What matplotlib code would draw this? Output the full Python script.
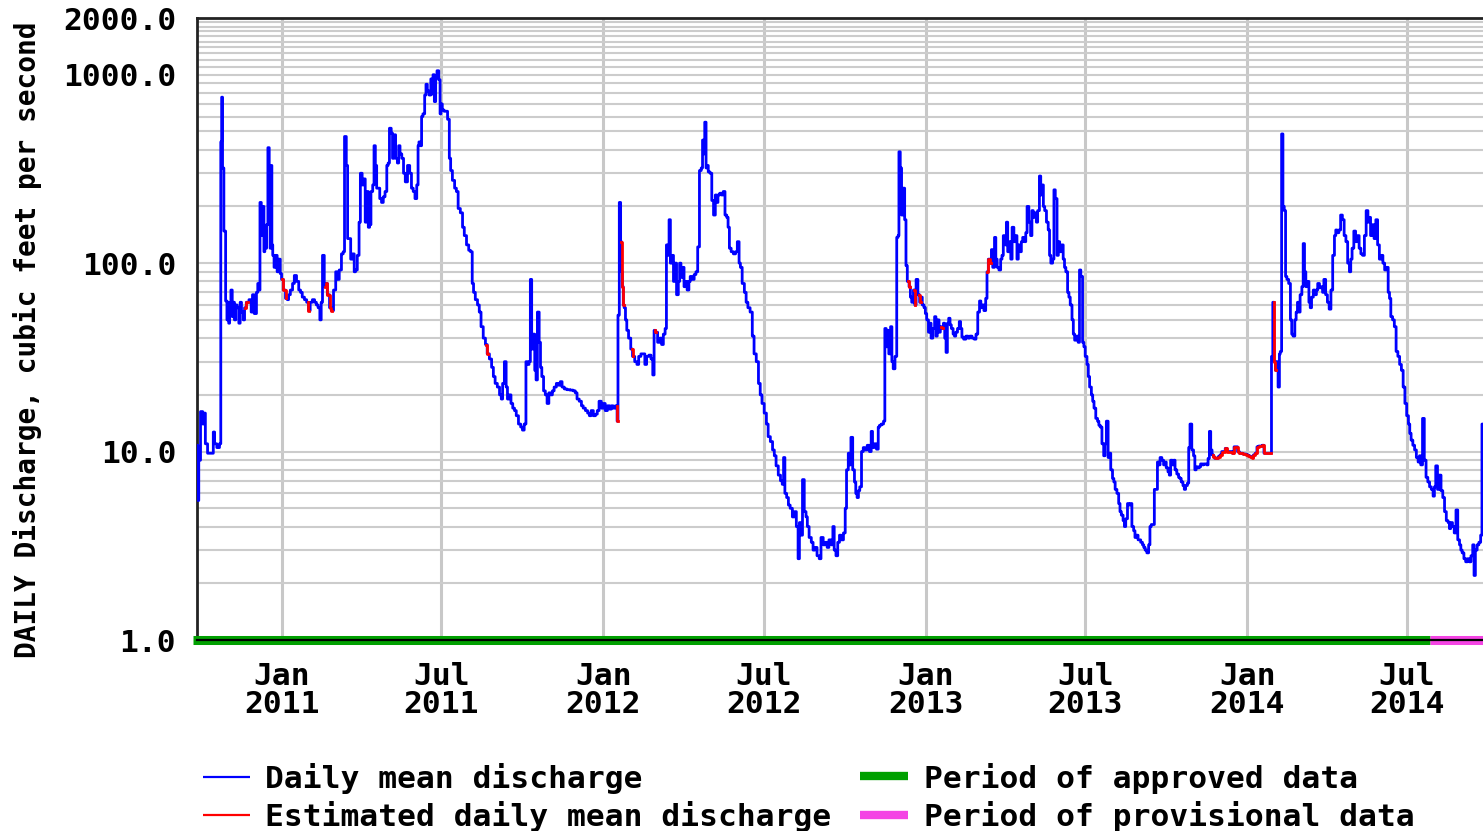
## daily discharge hydrograph, log scale
import numpy as np
import pandas as pd
import matplotlib
matplotlib.use("Agg")
import matplotlib.pyplot as plt
from matplotlib.ticker import FixedLocator, NullFormatter
from matplotlib.lines import Line2D

## record start, every day value below is days after this date
t0 = pd.Timestamp("2010-09-26")

## daily mean discharge (day, cfs)
day = [1, 2, 3, 6, 8, 9, 11, 14, 18, 20, 21, 25, 27, 28, 29, 30, 32, 34, 35, 36, 37, 38, 40, 41, 42, 44, 45, 47, 49, 50,
       52, 54, 55, 58, 61, 63, 64, 67, 69, 70, 71, 73, 74, 75, 76, 77, 78, 79, 80, 82, 83, 84, 85, 86, 87, 89, 91, 92, 94, 96,
       97, 100, 102, 104, 105, 108, 110, 112, 115, 117, 119, 121, 124, 126, 128, 130, 133, 135, 137, 139, 141, 142, 144, 146, 147, 150, 152, 154, 157, 159,
       161, 163, 166, 167, 169, 171, 172, 174, 176, 178, 180, 181, 184, 185, 187, 189, 191, 192, 194, 196, 197, 199, 201, 202, 204, 205, 207, 209, 211, 213,
       215, 217, 218, 220, 222, 223, 225, 227, 229, 230, 232, 234, 236, 238, 241, 243, 245, 247, 249, 251, 252, 253, 255, 256, 258, 260, 261, 263, 265, 267,
       268, 269, 271, 272, 274, 276, 277, 278, 280, 282, 284, 286, 288, 289, 292, 294, 296, 298, 301, 303, 305, 308, 310, 312, 314, 315, 318, 320, 322, 324,
       327, 329, 331, 334, 336, 338, 340, 343, 345, 347, 348, 351, 352, 354, 356, 358, 360, 362, 364, 367, 369, 371, 373, 375, 377, 378, 380, 381, 383, 385,
       386, 388, 390, 391, 393, 395, 397, 399, 401, 403, 405, 407, 410, 412, 414, 416, 419, 422, 426, 429, 431, 433, 436, 438, 440, 443, 445, 447, 449, 452,
       454, 456, 458, 461, 463, 465, 468, 470, 472, 474, 477, 478, 479, 481, 482, 483, 484, 485, 486, 488, 489, 492, 494, 496, 499, 501, 503, 506, 508, 510,
       512, 515, 517, 519, 520, 522, 525, 527, 529, 531, 533, 534, 536, 537, 539, 541, 542, 544, 546, 548, 549, 551, 553, 554, 556, 558, 560, 561, 564, 566,
       568, 570, 572, 574, 575, 576, 578, 579, 580, 582, 584, 586, 588, 590, 591, 593, 595, 597, 599, 601, 603, 604, 606, 608, 611, 613, 615, 617, 618, 621,
       623, 625, 627, 630, 632, 634, 637, 639, 641, 643, 646, 648, 650, 653, 655, 657, 659, 662, 664, 666, 667, 669, 671, 673, 675, 678, 680, 682, 684, 685,
       687, 689, 691, 693, 694, 697, 699, 701, 703, 706, 708, 710, 713, 715, 717, 719, 722, 723, 725, 727, 729, 731, 733, 736, 737, 739, 741, 742, 744, 746,
       748, 749, 751, 752, 754, 756, 758, 760, 763, 765, 767, 768, 771, 773, 775, 776, 779, 781, 782, 784, 785, 787, 789, 790, 792, 794, 796, 797, 798, 800,
       801, 803, 805, 806, 808, 810, 811, 813, 815, 816, 818, 820, 822, 823, 825, 827, 828, 830, 832, 833, 835, 837, 839, 840, 842, 844, 845, 847, 849, 850,
       852, 853, 855, 856, 858, 860, 861, 863, 865, 867, 868, 870, 872, 875, 877, 879, 882, 884, 886, 888, 890, 891, 893, 895, 897, 898, 900, 902, 903, 905,
       907, 908, 910, 912, 914, 915, 917, 919, 920, 922, 924, 925, 927, 929, 931, 932, 934, 936, 937, 939, 941, 942, 944, 946, 948, 949, 951, 953, 954, 956,
       958, 959, 961, 962, 964, 966, 968, 969, 971, 973, 974, 976, 978, 979, 981, 983, 985, 986, 988, 990, 991, 993, 995, 996, 998, 1000, 1002, 1003, 1005, 1007,
       1008, 1010, 1012, 1013, 1015, 1017, 1018, 1020, 1022, 1024, 1025, 1027, 1029, 1031, 1032, 1034, 1036, 1037, 1039, 1041, 1042, 1044, 1046, 1048, 1049, 1051, 1053, 1054, 1056, 1058,
       1059, 1061, 1063, 1065, 1066, 1068, 1070, 1071, 1073, 1075, 1076, 1078, 1080, 1082, 1083, 1085, 1087, 1088, 1090, 1092, 1093, 1095, 1097, 1099, 1100, 1102, 1104, 1105, 1107, 1109,
       1110, 1112, 1114, 1116, 1117, 1119, 1121, 1122, 1124, 1126, 1127, 1129, 1131, 1133, 1134, 1136, 1138, 1139, 1141, 1143, 1144, 1146, 1148, 1149, 1151, 1152, 1154, 1155, 1157, 1159,
       1161, 1163, 1165, 1167, 1169, 1171, 1173, 1175, 1177, 1179, 1181, 1183, 1185, 1187, 1189, 1191, 1193, 1195, 1197, 1199, 1201, 1203, 1205, 1207, 1209, 1211, 1213, 1215, 1217, 1219,
       1220, 1221, 1223, 1224, 1226, 1227, 1229, 1230, 1231, 1233, 1234, 1236, 1237, 1239, 1241, 1243, 1244, 1246, 1248, 1249, 1251, 1252, 1254, 1256, 1257, 1259, 1260, 1262, 1264, 1265,
       1267, 1269, 1271, 1272, 1274, 1276, 1278, 1279, 1281, 1283, 1285, 1287, 1289, 1291, 1293, 1294, 1296, 1298, 1300, 1302, 1304, 1306, 1308, 1310, 1311, 1313, 1315, 1317, 1319, 1321,
       1323, 1325, 1327, 1329, 1331, 1332, 1334, 1336, 1338, 1340, 1342, 1344, 1346, 1348, 1350, 1352, 1354, 1355, 1357, 1359, 1361, 1363, 1365, 1367, 1369, 1371, 1373, 1375, 1377, 1378,
       1380, 1382, 1384, 1386, 1388, 1389, 1391, 1393, 1395, 1397, 1399, 1401, 1403, 1405, 1406, 1408, 1410, 1412, 1414, 1416, 1418, 1420, 1422, 1423, 1425, 1427, 1429, 1431, 1433, 1435,
       1436, 1438, 1440, 1442, 1444, 1446, 1448, 1450, 1451, 1453, 1455, 1457, 1459, 1460]

cfs = [10.8, 5.5, 9.0, 16.3, 14, 16, 11, 9.8, 9.8, 12.7, 11, 10.5, 11, 440, 760, 320, 148, 63, 50, 62, 48, 60, 72, 52, 62, 50, 60, 58, 48, 62,
       55, 50, 58, 62, 64, 55, 68, 54, 70, 78, 72, 210, 180, 140, 200, 115, 150, 120, 160, 410, 200, 120, 330, 125, 110, 95, 110, 90, 105, 88,
       82, 72, 65, 64, 68, 72, 78, 86, 80, 72, 70, 66, 64, 62, 56, 62, 64, 62, 60, 58, 50, 62, 110, 75, 78, 68, 58, 56, 72, 90,
       82, 92, 112, 115, 470, 330, 135, 135, 105, 112, 90, 92, 110, 165, 300, 260, 280, 165, 240, 155, 160, 240, 260, 420, 330, 250, 250, 220, 210, 225,
       240, 330, 340, 520, 490, 360, 480, 360, 340, 420, 380, 360, 300, 270, 330, 300, 250, 240, 220, 260, 420, 440, 420, 600, 620, 780, 890, 820, 780, 950,
       790, 1000, 720, 960, 1050, 940, 620, 700, 650, 640, 640, 580, 360, 310, 275, 250, 240, 195, 185, 155, 140, 125, 117, 115, 78, 70, 64, 60, 55, 46,
       40, 37, 33, 31, 28, 25, 23, 22, 20, 19, 23, 30, 22, 19, 20, 18, 17, 16.5, 15.5, 14, 13.5, 13, 14, 30, 29, 30, 82, 35, 42, 27,
       24, 55, 38, 28, 25, 21, 20, 18, 20.5, 20, 21, 22, 23, 22.5, 23.5, 22, 21.5, 21.3, 21.2, 21, 20.5, 19, 18.5, 17.5, 17, 16.5, 16, 15.5, 16.5, 15.5,
       15.8, 16.5, 18.5, 17, 18, 16.5, 17.5, 16.8, 17.5, 17, 17.5, 14.5, 53, 210, 130, 90, 75, 60, 58, 50, 44, 40, 35, 32, 30, 29, 32, 33, 33, 29,
       32, 32.5, 31, 25.5, 44, 43, 38, 40, 37, 42, 45, 125, 110, 170, 100, 110, 80, 100, 68, 80, 100, 84, 95, 75, 80, 72, 80, 85, 82, 87,
       90, 122, 310, 320, 450, 380, 560, 320, 330, 305, 300, 215, 180, 230, 210, 230, 235, 230, 240, 180, 175, 155, 120, 115, 112, 115, 130, 100, 95, 78,
       70, 62, 58, 55, 41, 33, 30, 23, 20, 18, 16, 14, 12, 11.3, 10.2, 9.5, 8.4, 7.5, 7, 6.7, 9.3, 6, 5.7, 5.2, 5.0, 4.5, 4.8, 4.0, 2.7, 4.2,
       3.6, 7.1, 4.8, 4.5, 4.0, 3.5, 3.3, 3.0, 3.1, 2.8, 2.7, 3.5, 3.2, 3.3, 3.1, 3.4, 3.2, 4.0, 3.0, 2.8, 3.3, 3.6, 3.4, 3.7, 5.0, 8.0, 9.8, 8.5, 11.9, 8.0,
       6.9, 6.0, 5.7, 6.2, 6.5, 10.0, 10.5, 10.2, 10.8, 10.0, 12.8, 10.5, 11, 10.3, 13.5, 13.8, 14, 14.5, 45, 36, 44, 33, 46, 30, 27.5, 32, 137, 140, 390, 320,
       180, 250, 170, 97, 80, 75, 66, 62, 72, 60, 82, 68, 62, 66, 60, 58, 54, 50, 43, 48, 40, 45, 52, 41, 50, 43, 46, 45, 48, 40,
       33.6, 48, 51, 47, 45, 42, 41, 43, 45, 49, 45, 40.5, 39.5, 41, 40, 41, 40, 39.5, 42, 55, 63, 58, 60, 56, 65, 90, 105, 100, 118, 95,
       137, 105, 95, 92, 105, 110, 140, 125, 165, 115, 130, 105, 155, 130, 140, 105, 125, 115, 130, 137, 130, 145, 200, 165, 140, 190, 175, 185, 165, 190,
       290, 230, 260, 200, 190, 165, 150, 110, 100, 105, 245, 220, 110, 130, 115, 125, 105, 95, 90, 70, 66, 60, 50, 42, 39, 41, 38, 92, 85, 38,
       36, 32, 29, 25, 22, 20, 18.5, 17, 15, 14.5, 13.8, 13.5, 11, 9.5, 11, 14.5, 9.3, 9.8, 8.0, 7.2, 6.9, 6.3, 6.0, 5.3, 4.8, 4.6, 4.3, 4.0, 4.4, 5.3,
       5.2, 5.3, 4.0, 3.8, 3.5, 3.6, 3.4, 3.4, 3.3, 3.2, 3.1, 3.0, 2.9, 3.2, 4.0, 4.1, 4.1, 6.3, 6.3, 8.8, 8.5, 9.3, 9.0, 8.5, 8.8, 8.2, 7.8, 7.5, 9.0, 8.5,
       9.0, 8.0, 7.6, 7.3, 7.2, 6.9, 6.6, 6.3, 6.6, 6.8, 10.5, 14.0, 10.2, 9.5, 8.0, 8.3, 8.2, 8.3, 8.6, 8.5, 8.6, 8.6, 8.5, 9.2, 12.8, 10.2, 9.6, 9.4, 9.2, 9.2,
       9.4, 9.6, 10.0, 10.0, 10.4, 10.0, 10.0, 10.0, 9.8, 10.6, 10.6, 10.0, 9.8, 9.8, 9.7, 9.7, 9.6, 9.5, 9.4, 9.3, 9.6, 9.8, 10.6, 10.7, 10.7, 10.8, 9.8, 9.8, 9.8, 9.8,
       9.8, 32, 62, 30, 27, 30, 22, 33, 34, 485, 200, 190, 85, 82, 78, 50, 42, 41, 50, 55, 62, 55, 68, 75, 127, 90, 75, 80, 62, 58,
       66, 72, 68, 72, 78, 74, 75, 70, 82, 68, 62, 57, 72, 110, 140, 150, 145, 150, 180, 170, 140, 130, 100, 90, 105, 120, 148, 130, 140, 120,
       112, 110, 140, 190, 165, 175, 140, 160, 135, 170, 125, 105, 110, 100, 92, 95, 70, 65, 52, 50, 46, 34, 32, 29, 27, 22, 18, 15.5, 14, 12.5,
       11.5, 10.8, 10.2, 9.3, 8.8, 9.5, 8.5, 15, 9.0, 7.3, 6.9, 6.5, 6.3, 5.8, 6.5, 8.4, 6.3, 7.5, 6.2, 5.7, 4.8, 4.3, 4.2, 3.9, 4.2, 4.0, 3.7, 4.9, 3.4, 3.2,
       3.0, 2.9, 2.7, 2.6, 2.7, 2.6, 2.8, 3.2, 2.2, 3.0, 3.2, 3.3, 3.6, 14]

## runs of estimated values (first day, last day)
est_periods = [(55, 58), (97, 102), (126, 128), (146, 154), (329, 331), (477, 478), (482, 485),
               (494, 496), (520, 522), (808, 810), (815, 816), (820, 822), (845, 847), (898, 902),
               (1154, 1220), (1223, 1226)]

## approval status of the record
approved_start = "2010-09-22"
provisional_start = "2014-07-27"
record_end = "2014-09-26"

ytick_vals = [1, 10, 100, 1000, 2000]
xtick_dates = ["2011-01-01", "2011-07-01", "2012-01-01", "2012-07-01",
               "2013-01-01", "2013-07-01", "2014-01-01", "2014-07-01"]

day = np.array(day)
cfs = np.array(cfs, dtype=float)
dates = t0 + pd.to_timedelta(day, unit="D")

plt.rcParams['font.family'] = ['DejaVu Sans Mono']
plt.rcParams['font.weight'] = 'bold'
FS = 22.5

fig = plt.figure(figsize=(14.83, 8.31), dpi=100)
ax = fig.add_axes([197/1483, 1-640/831, 1-197/1483, 622/831])

ax.set_yscale('log')
ax.set_ylim(1, 2000)
ax.set_xlim(pd.Timestamp("2010-09-26 12:00"), pd.Timestamp("2014-09-25 16:00"))

## grid lines: 2..9 per decade, plus every 100 above 1000
minor = [m * 10**e for e in range(0, 3) for m in range(2, 10)] + list(range(1100, 2000, 100))
ax.yaxis.set_major_locator(FixedLocator(ytick_vals))
ax.yaxis.set_minor_locator(FixedLocator(minor))
ax.yaxis.set_minor_formatter(NullFormatter())
ax.set_yticklabels(["%.1f" % v for v in ytick_vals], fontsize=FS)
ax.grid(True, which='both', axis='y', color='#cccccc', lw=1.5, zorder=0)

xt = pd.to_datetime(xtick_dates)
ax.set_xticks(xt)
ax.set_xticklabels([d.strftime("%b\n%Y") for d in xt], fontsize=FS)
for lbl in ax.get_xticklabels():
    lbl.set_linespacing(0.95)
ax.grid(True, which='major', axis='x', color='#c8c8c8', lw=2.2, zorder=0)
ax.tick_params(axis='both', which='both', length=0)
ax.tick_params(axis='y', pad=15)
ax.tick_params(axis='x', pad=16)

## discharge line, then estimated runs on top in red
ax.plot(dates, cfs, color='#0000ff', lw=2.0, drawstyle='steps-mid', zorder=3)
for a, b in est_periods:
    m = (day >= a) & (day <= b)
    ax.plot(dates[m], cfs[m], color='#ff0000', lw=2.0, drawstyle='steps-mid', zorder=4)

## approval bars along the bottom
ax.plot(pd.to_datetime([approved_start, provisional_start]), [1, 1], color='#00a000',
        lw=6.5, solid_capstyle='butt', clip_on=False, zorder=5)
ax.plot(pd.to_datetime([provisional_start, record_end]), [1, 1], color='#f444e4',
        lw=6.5, solid_capstyle='butt', clip_on=False, zorder=5)
ax.axhline(1, color='black', lw=1.6, clip_on=False, zorder=6)

for s in ['right', 'bottom']:
    ax.spines[s].set_visible(False)
for s in ['left', 'top']:
    ax.spines[s].set_linewidth(2)
    ax.spines[s].set_color('#222222')

fig.text(28/1483, 1-340/831, "DAILY Discharge, cubic feet per second", rotation=90,
         ha='center', va='center', fontsize=20)

## legend
def leg_line(x0, x1, y, color, lw):
    fig.add_artist(Line2D([x0/1483, x1/1483], [1-y/831, 1-y/831], color=color, lw=lw,
                          solid_capstyle='butt'))

leg_line(203, 250, 777, '#0000ff', 1.6)
leg_line(203, 250, 815, '#ff0000', 1.6)
leg_line(860, 908, 776, '#00a000', 6)
leg_line(860, 908, 815, '#f444e4', 6)
fig.text(265/1483, 1-778/831, "Daily mean discharge", fontsize=FS, va='center')
fig.text(265/1483, 1-816/831, "Estimated daily mean discharge", fontsize=FS, va='center')
fig.text(924/1483, 1-778/831, "Period of approved data", fontsize=FS, va='center')
fig.text(924/1483, 1-816/831, "Period of provisional data", fontsize=FS, va='center')

fig.savefig("out.png", dpi=100)
